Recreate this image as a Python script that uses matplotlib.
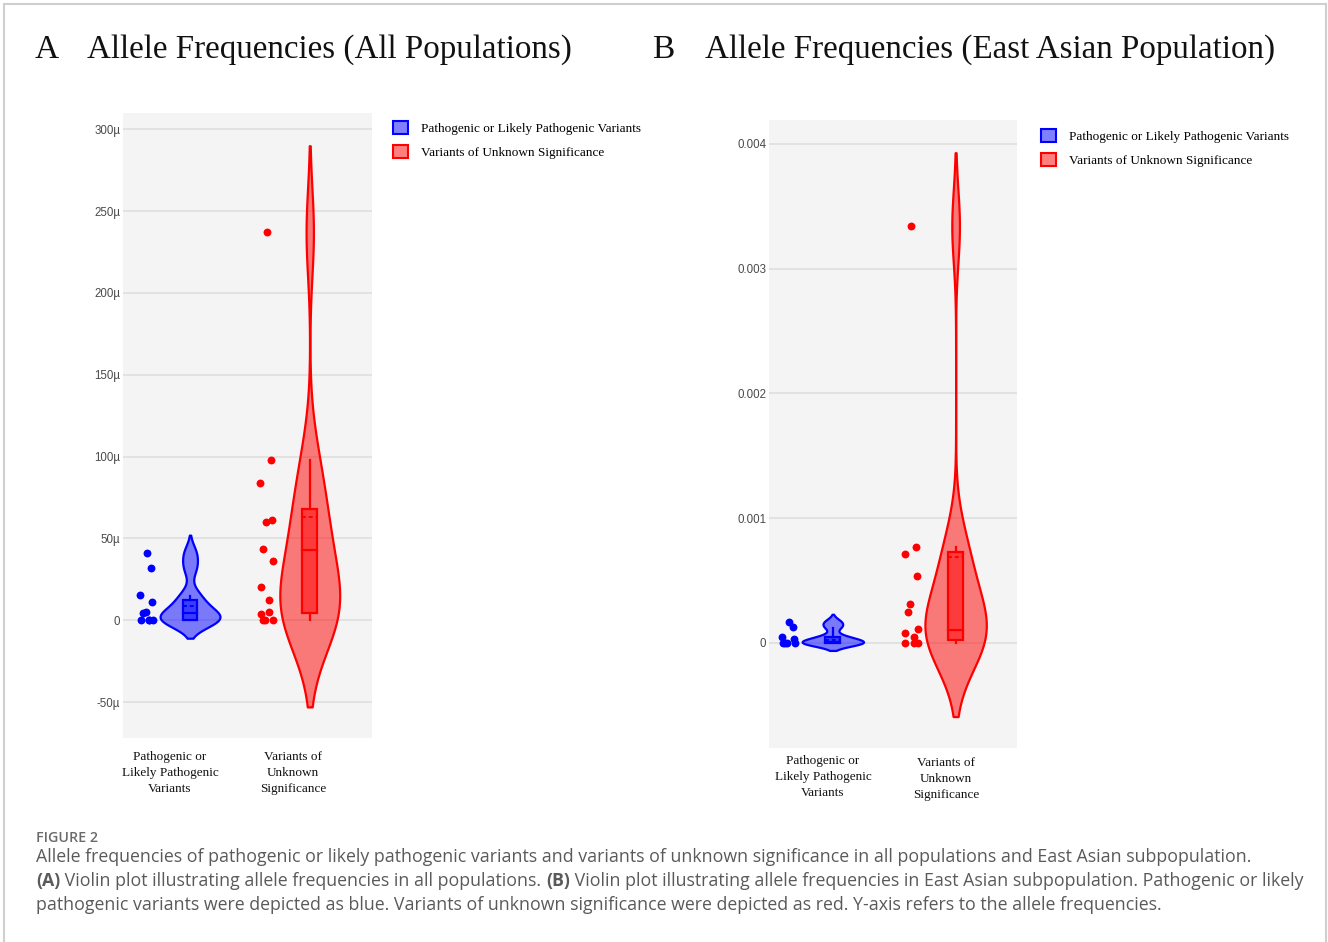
import numpy as np
import matplotlib
matplotlib.use('Agg')
import matplotlib.pyplot as plt
from matplotlib.patches import Patch, Rectangle

# values (allele frequencies)
cats = ['Pathogenic or\nLikely Pathogenic\nVariants', 'Variants of\nUnknown\nSignificance']
legend_labels = ['Pathogenic or Likely Pathogenic Variants', 'Variants of Unknown Significance']

# panel A, all populations (in units of 1e-6)
a_path = np.array([41, 32, 15.4, 11.3, 5.2, 4.5, 0, 0, 0, 0]) * 1e-6
a_vus = np.array([237, 98, 84, 61, 60, 43.5, 36, 20.5, 12.5, 5, 4, 0, 0, 0]) * 1e-6
# box stats: low whisker, q1, median, mean, q3, high whisker
a_path_box = np.array([0, 0, 4.2, 8.7, 12.3, 14.8]) * 1e-6
a_vus_box = np.array([0, 4.3, 43, 63, 68, 98]) * 1e-6
a_bw = [5.5e-6, 26.5e-6]

# panel B, East Asian population
b_path = np.array([0.00017, 0.00013, 0.00005, 0.00003, 0, 0, 0, 0])
b_vus = np.array([0.00334, 0.00077, 0.00071, 0.00054, 0.00031, 0.00025,
                  0.00011, 0.00008, 0.00005, 0, 0, 0])
b_path_box = np.array([0, 0, 0.00001, 0.000024, 0.00005, 0.00012])
b_vus_box = np.array([0, 0.000024, 0.000104, 0.00069, 0.00073, 0.00077])
b_bw = [3e-5, 2.95e-4]

colors = ['#0000ff', '#ff0000']
fills = [(0, 0, 1, 0.5), (1, 0, 0, 0.5)]

W, H = 1328, 942


def fx(px):
    return px / W


def fy(py):
    return 1 - py / H


def kde(vals, h):
    y = np.linspace(vals.min() - 2 * h, vals.max() + 2 * h, 400)
    d = np.exp(-0.5 * ((y[:, None] - vals[None, :]) / h) ** 2).sum(axis=1)
    return y, d / d.max()


def draw_group(ax, pos, vals, box, h, c, f):
    y, d = kde(vals, h)
    hw = 0.25
    ax.fill_betweenx(y, pos - hw * d, pos + hw * d, facecolor=f, edgecolor=c, lw=1.6, zorder=2)
    lo, q1, med, mean, q3, hi = box
    bw = 0.062
    ax.add_patch(Rectangle((pos - bw, q1), 2 * bw, q3 - q1, facecolor=f, edgecolor=c, lw=1.6, zorder=3))
    ax.plot([pos, pos], [lo, q1], color=c, lw=1.6, zorder=3)
    ax.plot([pos, pos], [q3, hi], color=c, lw=1.6, zorder=3)
    ax.plot([pos - bw, pos + bw], [med, med], color=c, lw=1.6, zorder=4)
    ax.plot([pos - bw, pos + bw], [mean, mean], color=c, lw=1.4, ls=(0, (2, 1.5)), zorder=4)
    jit = 0.055 * np.sin(np.arange(len(vals)) * 2.4)
    ax.scatter(pos - 0.36 + jit, vals, s=32, color=c, zorder=5, linewidths=0)


def style(ax, xlim, ylim, ticks, fmt):
    ax.set_facecolor('#f4f4f4')
    ax.set_xlim(*xlim)
    ax.set_ylim(*ylim)
    ax.set_yticks(ticks)
    ax.set_yticklabels([fmt(t) for t in ticks], fontsize=8.3, color='#4a4a4a', family='Liberation Sans')
    ax.set_xticks([])
    ax.tick_params(axis='y', length=0, pad=2)
    ax.grid(axis='y', color='#e1e1e1', lw=1.3)
    ax.set_axisbelow(True)
    for s in ax.spines.values():
        s.set_visible(False)


fig = plt.figure(figsize=(W / 100, H / 100), dpi=100)

axA = fig.add_axes([fx(123), fy(738), (372 - 123) / W, (738 - 113) / H])
axB = fig.add_axes([fx(769), fy(748), (1017 - 769) / W, (748 - 120) / H])

draw_group(axA, 0, a_path, a_path_box, a_bw[0], colors[0], fills[0])
draw_group(axA, 1, a_vus, a_vus_box, a_bw[1], colors[1], fills[1])
draw_group(axB, 0, b_path, b_path_box, b_bw[0], colors[0], fills[0])
draw_group(axB, 1, b_vus, b_vus_box, b_bw[1], colors[1], fills[1])

style(axA, (-0.56, 1.52), (-72e-6, 310e-6), np.arange(-50, 301, 50) * 1e-6,
      lambda v: '0' if abs(v) < 1e-12 else '%dµ' % round(v * 1e6))
style(axB, (-0.52, 1.5), (-0.000842, 0.004192), [0, 0.001, 0.002, 0.003, 0.004],
      lambda v: '0' if v == 0 else '%.3f' % v)

serif = 'Liberation Serif'
# category labels
for x, y, lab in [(170, 773, cats[0]), (293, 773, cats[1]), (823, 777, cats[0]), (946, 779, cats[1])]:
    fig.text(fx(x), fy(y), lab, ha='center', va='center', fontsize=9.5, family=serif,
             linespacing=1.4, color='#111111')

# titles
fig.text(fx(35), fy(50), 'A', fontsize=24, family=serif, va='center', color='#111111')
fig.text(fx(87), fy(50), 'Allele Frequencies (All Populations)', fontsize=23.8, family=serif,
         va='center', color='#111111')
fig.text(fx(652), fy(50), 'B', fontsize=24, family=serif, va='center', color='#111111')
fig.text(fx(705), fy(50), 'Allele Frequencies (East Asian Population)', fontsize=23.8, family=serif,
         va='center', color='#111111')

# legends
handles = [Patch(facecolor=fills[i], edgecolor=colors[i], lw=1.5) for i in range(2)]
for x, y in [(393, 121), (1041, 129)]:
    fig.legend(handles, legend_labels, loc='upper left', bbox_to_anchor=(fx(x), fy(y)),
               frameon=False, prop={'family': serif, 'size': 9.5}, borderpad=0,
               borderaxespad=0, handlelength=1.15, handleheight=1.15, handletextpad=1.0,
               labelspacing=0.75)

# caption
cap = fig.add_axes([0, 0, 1, 1])
cap.axis('off')
cap.set_zorder(-1)
csty = dict(family='Open Sans', fontsize=12.8, color='#5a5a5a')
fig.text(fx(36), fy(838), 'FIGURE 2', family='Open Sans', fontsize=10.3, weight='semibold',
         color='#6b6b6b', va='center')
fig.text(fx(36), fy(857), 'Allele frequencies of pathogenic or likely pathogenic variants and variants '
         'of unknown significance in all populations and East Asian subpopulation.', va='center', **csty)
pieces = [('(A)', 'bold'), (' Violin plot illustrating allele frequencies in all populations. ', 'normal'),
          ('(B)', 'bold'), (' Violin plot illustrating allele frequencies in East Asian subpopulation. '
                            'Pathogenic or likely', 'normal')]
t = fig.text(fx(36), fy(881), pieces[0][0], va='center', weight='bold', **csty)
for txt, wt in pieces[1:]:
    t = cap.annotate(txt, xy=(1, 0), xycoords=t, va='bottom', ha='left', weight=wt, **csty)
fig.text(fx(36), fy(905), 'pathogenic variants were depicted as blue. Variants of unknown significance '
         'were depicted as red. Y-axis refers to the allele frequencies.', va='center', **csty)

# page frame
fig.add_artist(Rectangle((fx(4), -0.05), fx(1326) - fx(4), fy(4) + 0.05, transform=fig.transFigure,
                         fill=False, edgecolor='#cfcfcf', lw=1.5))

fig.savefig('out.png', dpi=100)
